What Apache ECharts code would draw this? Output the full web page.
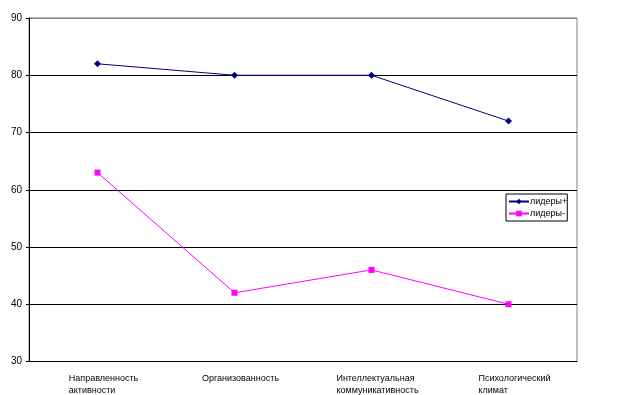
<!DOCTYPE html>
<html><head><meta charset="utf-8">
<script src="https://cdn.jsdelivr.net/npm/echarts@6/dist/echarts.min.js"></script>
<style>html,body{margin:0;padding:0;background:#fff}#c{width:631px;height:395px}</style>
</head><body><div id="c"></div>
<script>
const categories = ['Направленность\nактивности', 'Организованность', 'Интеллектуальная\nкоммуникативность', 'Психологический\nклимат'];
const leadersPlus = [82, 80, 80, 72];
const leadersMinus = [63, 42, 46, 40];
const seriesNames = ['лидеры+', 'лидеры-'];
const yMin = 30, yMax = 90, yStep = 10;

const font = 'Arial, "Liberation Sans", sans-serif';
const chart = echarts.init(document.getElementById('c'));
chart.setOption({
  animation: false,
  backgroundColor: '#fff',
  grid: { left: 29, right: 54, top: 18, bottom: 33, show: true, borderColor: '#808080', borderWidth: 1 },
  legend: {
    orient: 'vertical', left: 506, top: 194,
    borderColor: '#000', borderWidth: 1, padding: [3, 0, 3, 2],
    itemWidth: 20, itemHeight: 7, itemGap: 3,
    textStyle: { fontFamily: font, fontSize: 9, color: '#000', padding: [0, 0, 0, -4] },
    data: seriesNames
  },
  xAxis: {
    type: 'category', data: categories, boundaryGap: true,
    axisLine: { lineStyle: { color: '#000', width: 1 } },
    axisTick: { length: 3, lineStyle: { color: '#000' } },
    axisLabel: {
      interval: 0, margin: 11, color: '#000', fontFamily: font, fontSize: 9,
      padding: [0, 0, 0, 12],
      formatter: v => v.split('\n').map(s => '{a|' + s + '}').join('\n'),
      rich: { a: { align: 'left', fontFamily: font, fontSize: 9, color: '#000', lineHeight: 12 } }
    }
  },
  yAxis: {
    type: 'value', min: yMin, max: yMax, interval: yStep,
    axisLine: { show: true, lineStyle: { color: '#000', width: 1 } },
    axisTick: { show: true, length: 3, lineStyle: { color: '#000' } },
    axisLabel: { margin: 7, color: '#000', fontFamily: font, fontSize: 10 },
    splitLine: { show: true, lineStyle: { color: ['#000', '#000', '#000', '#000', '#000', '#000', '#808080'], width: 1 } }
  },
  series: [
    {
      name: seriesNames[0], type: 'line', data: leadersPlus,
      symbol: 'diamond', symbolSize: 7,
      lineStyle: { color: '#000080', width: 1 },
      itemStyle: { color: '#000080' }
    },
    {
      name: seriesNames[1], type: 'line', data: leadersMinus,
      symbol: 'rect', symbolSize: 6,
      lineStyle: { color: '#FF00FF', width: 1 },
      itemStyle: { color: '#FF00FF' }
    }
  ]
});
</script></body></html>
